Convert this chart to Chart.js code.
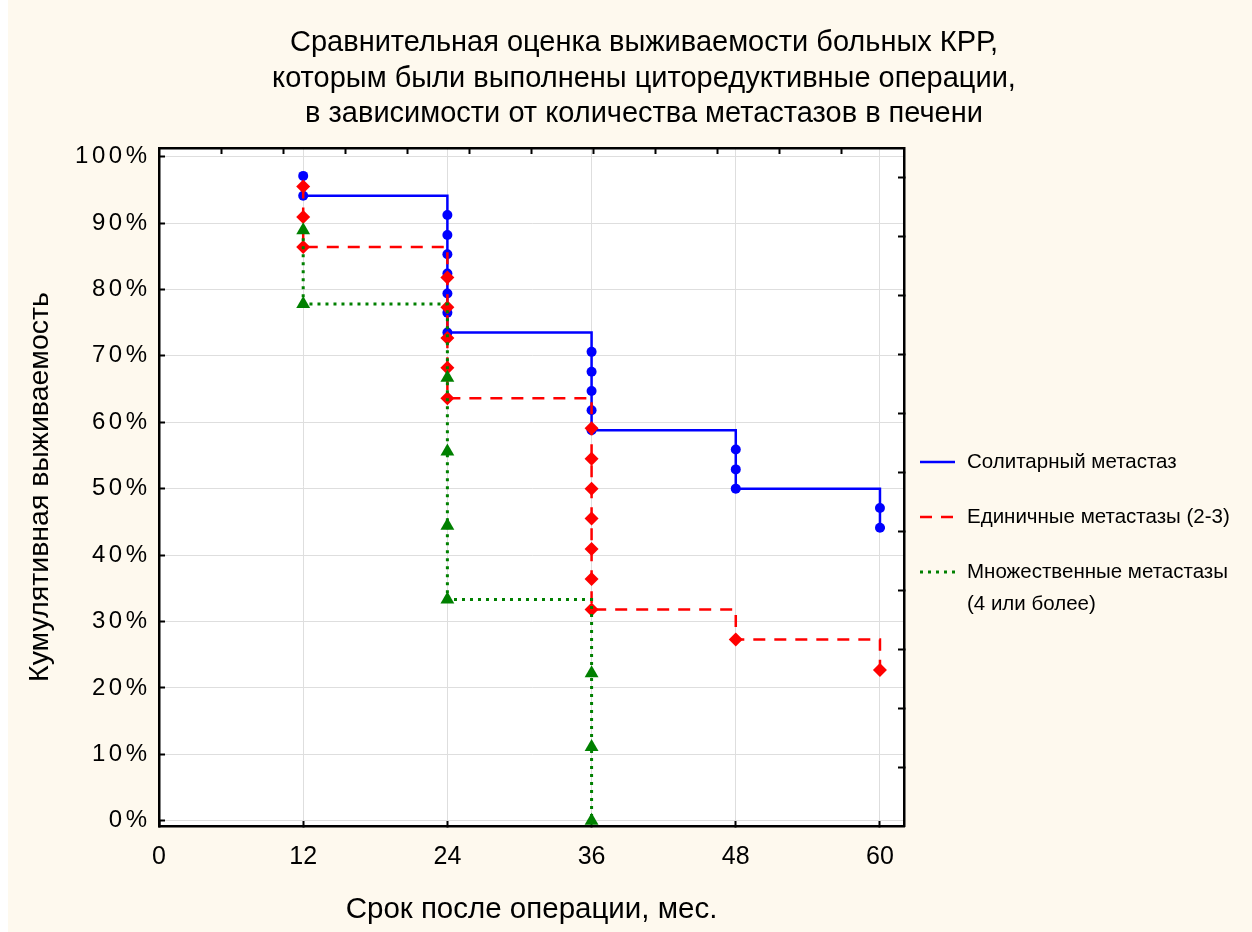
<!DOCTYPE html>
<html><head><meta charset="utf-8">
<script src="https://cdn.jsdelivr.net/npm/chart.js@4/dist/chart.umd.min.js"></script>
<style>html,body{margin:0;padding:0;background:#fff;}canvas{display:block;}</style>
</head><body>
<canvas id="c" width="1252" height="932"></canvas>
<script>
// ---- data ----
const titleLines = ['Сравнительная оценка выживаемости больных КРР,', 'которым были выполнены циторедуктивные операции,', 'в зависимости от количества метастазов в печени'];
const xAxisTitle = 'Срок после операции, мес.';
const yAxisTitle = 'Кумулятивная выживаемость';
const xTickValues = [0, 12, 24, 36, 48, 60];
const yTickValues = [0, 10, 20, 30, 40, 50, 60, 70, 80, 90, 100];
const seriesLabels = [['Солитарный метастаз'], ['Единичные метастазы (2-3)'], ['Множественные метастазы', '(4 или более)']];

const soloTimes = [12, 12, 24, 24, 24, 24, 24, 24, 24, 36, 36, 36, 36, 36, 48, 48, 48, 60, 60];
const soloSurv  = [97.1, 94.1, 91.2, 88.2, 85.3, 82.4, 79.4, 76.5, 73.5, 70.6, 67.6, 64.7, 61.8, 58.8, 55.9, 52.9, 50.0, 47.1, 44.1];
const soloEnd = 60.4;

const fewTimes = [12, 12, 12, 24, 24, 24, 24, 24, 36, 36, 36, 36, 36, 36, 36, 48, 60];
const fewSurv  = [95.5, 90.9, 86.4, 81.8, 77.3, 72.7, 68.2, 63.6, 59.1, 54.5, 50.0, 45.5, 40.9, 36.4, 31.8, 27.3, 22.7];
const fewEnd = 60;

const manyTimes = [12, 12, 24, 24, 24, 24, 36, 36, 36];
const manySurv  = [88.9, 77.8, 66.7, 55.6, 44.4, 33.3, 22.2, 11.1, 0];
const manyEnd = 36;

const topAuxTicks = [1, 2, 3, 4, 5, 6, 7, 8, 9, 10, 11];
const rightAuxTicks = [1, 2, 3, 4, 5, 6, 7, 8, 9, 10, 11];

// ---- build step curves ----
function stepCurve(times, surv, end, r) {
  const pts = [], radii = [];
  let pt = null, ps = null;
  times.forEach((t, i) => {
    if (pt !== null && t !== pt) { pts.push({x: t, y: ps}); radii.push(0); }
    pts.push({x: t, y: surv[i]}); radii.push(r);
    pt = t; ps = surv[i];
  });
  if (end > pt) { pts.push({x: end, y: ps}); radii.push(0); }
  return {pts, radii};
}
const solo = stepCurve(soloTimes, soloSurv, soloEnd, 5);
const few = stepCurve(fewTimes, fewSurv, fewEnd, 7);
const many = stepCurve(manyTimes, manySurv, manyEnd, 8);

const REG = "'Liberation Sans', Arial, sans-serif";
const CREAM = '#fef9ee';

const bgPlugin = {
  id: 'bg',
  beforeDraw(chart) {
    const {ctx, chartArea: a, width, height} = chart;
    ctx.save();
    ctx.fillStyle = '#ffffff'; ctx.fillRect(0, 0, width, height);
    ctx.fillStyle = CREAM; ctx.fillRect(8, 0, width - 8, height);
    ctx.fillStyle = '#ffffff'; ctx.fillRect(a.left, a.top, a.right - a.left, a.bottom - a.top);
    ctx.restore();
    const s = chart.scales.y;
    if (s && !s.__spaced) {
      const orig = s.drawLabels;
      s.drawLabels = function (ca) {
        const c = this.ctx; const prev = c.letterSpacing;
        c.letterSpacing = '3.5px'; orig.call(this, ca); c.letterSpacing = prev || '0px';
      };
      s.__spaced = true;
    }
  }
};

const textPlugin = {
  id: 'texts',
  afterDraw(chart) {
    const {ctx, chartArea: a} = chart;
    ctx.save();
    ctx.fillStyle = '#000';
    ctx.textAlign = 'center'; ctx.textBaseline = 'middle';
    ctx.font = '29px ' + REG;
    titleLines.forEach((l, i) => ctx.fillText(l, 644, 43 + i * 35.5));
    // legend
    const rows = [462, 517, 572];
    const lx0 = a.right + 16, lx1 = a.right + 51, tx = a.right + 63;
    chart.data.datasets.forEach((ds, i) => {
      const y = rows[i];
      ctx.beginPath();
      ctx.strokeStyle = ds.borderColor; ctx.lineWidth = ds.borderWidth;
      ctx.setLineDash(ds.borderDash || []);
      ctx.moveTo(lx0, y); ctx.lineTo(lx1, y); ctx.stroke();
      ctx.setLineDash([]);
      ctx.fillStyle = '#000'; ctx.textAlign = 'left';
      ctx.font = '20.5px ' + REG;
      seriesLabels[i].forEach((t, j) => ctx.fillText(t, tx, y + j * 32));
    });
    ctx.restore();
  }
};

new Chart(document.getElementById('c'), {
  type: 'scatter',
  data: {
    datasets: [
      {label: seriesLabels[0].join(' '), data: solo.pts, showLine: true, borderColor: '#0000ff', backgroundColor: '#0000ff', borderWidth: 2.5, pointRadius: solo.radii, pointStyle: 'circle', pointBorderWidth: 0, order: 3},
      {label: seriesLabels[1].join(' '), data: few.pts, showLine: true, borderColor: '#ff0000', backgroundColor: '#ff0000', borderWidth: 2.5, borderDash: [12, 9], pointRadius: few.radii, pointStyle: 'rectRot', pointBorderWidth: 0, order: 2},
      {label: seriesLabels[2].join(' '), data: many.pts, showLine: true, borderColor: '#008000', backgroundColor: '#008000', borderWidth: 3, borderDash: [3, 5], pointRadius: many.radii, pointStyle: 'triangle', pointBorderWidth: 0, order: 1}
    ]
  },
  options: {
    responsive: false,
    animation: false,
    layout: {padding: {top: 148, left: 0, right: 0, bottom: 0}},
    plugins: {legend: {display: false}, title: {display: false}, tooltip: {enabled: false}},
    scales: {
      x: {
        type: 'linear', position: 'bottom', min: 0, max: 62,
        afterBuildTicks: s => { s.ticks = xTickValues.map(v => ({value: v})); },
        afterFit: s => { s.height = 106; },
        grid: {color: '#dedede', lineWidth: 1, tickColor: '#000', tickLength: -6, tickWidth: 2},
        border: {color: '#000', width: 2.5},
        ticks: {color: '#000', font: {family: REG, size: 25}, padding: 22, maxRotation: 0},
        title: {display: true, text: xAxisTitle, color: '#000', font: {family: REG, size: 29.5}, padding: {bottom: 4, top: 0}}
      },
      y: {
        type: 'linear', position: 'left', min: -0.8, max: 101.3,
        afterBuildTicks: s => { s.ticks = yTickValues.map(v => ({value: v})); },
        afterFit: s => { s.width = 159; },
        grid: {color: '#dedede', lineWidth: 1, tickColor: '#000', tickLength: -6, tickWidth: 2},
        border: {color: '#000', width: 2.5},
        ticks: {color: '#000', font: {family: REG, size: 24}, padding: 14.5, callback: v => v + '%'},
        title: {display: true, text: yAxisTitle, color: '#000', font: {family: REG, size: 28.5}, padding: {top: 23, bottom: 0}}
      },
      x2: {
        type: 'linear', position: 'top', min: 0, max: 12,
        afterBuildTicks: s => { s.ticks = topAuxTicks.map(v => ({value: v})); },
        afterFit: s => { s.height = 0; },
        grid: {drawOnChartArea: false, tickColor: '#000', tickLength: -6, tickWidth: 2},
        border: {color: '#000', width: 2.5},
        ticks: {display: false}
      },
      y2: {
        type: 'linear', position: 'right', min: 0, max: 11.5,
        afterBuildTicks: s => { s.ticks = rightAuxTicks.map(v => ({value: v})); },
        afterFit: s => { s.width = 348; },
        grid: {drawOnChartArea: false, tickColor: '#000', tickLength: -6, tickWidth: 2},
        border: {color: '#000', width: 2.5},
        ticks: {display: false}
      }
    }
  },
  plugins: [bgPlugin, textPlugin]
});
</script>
</body></html>
